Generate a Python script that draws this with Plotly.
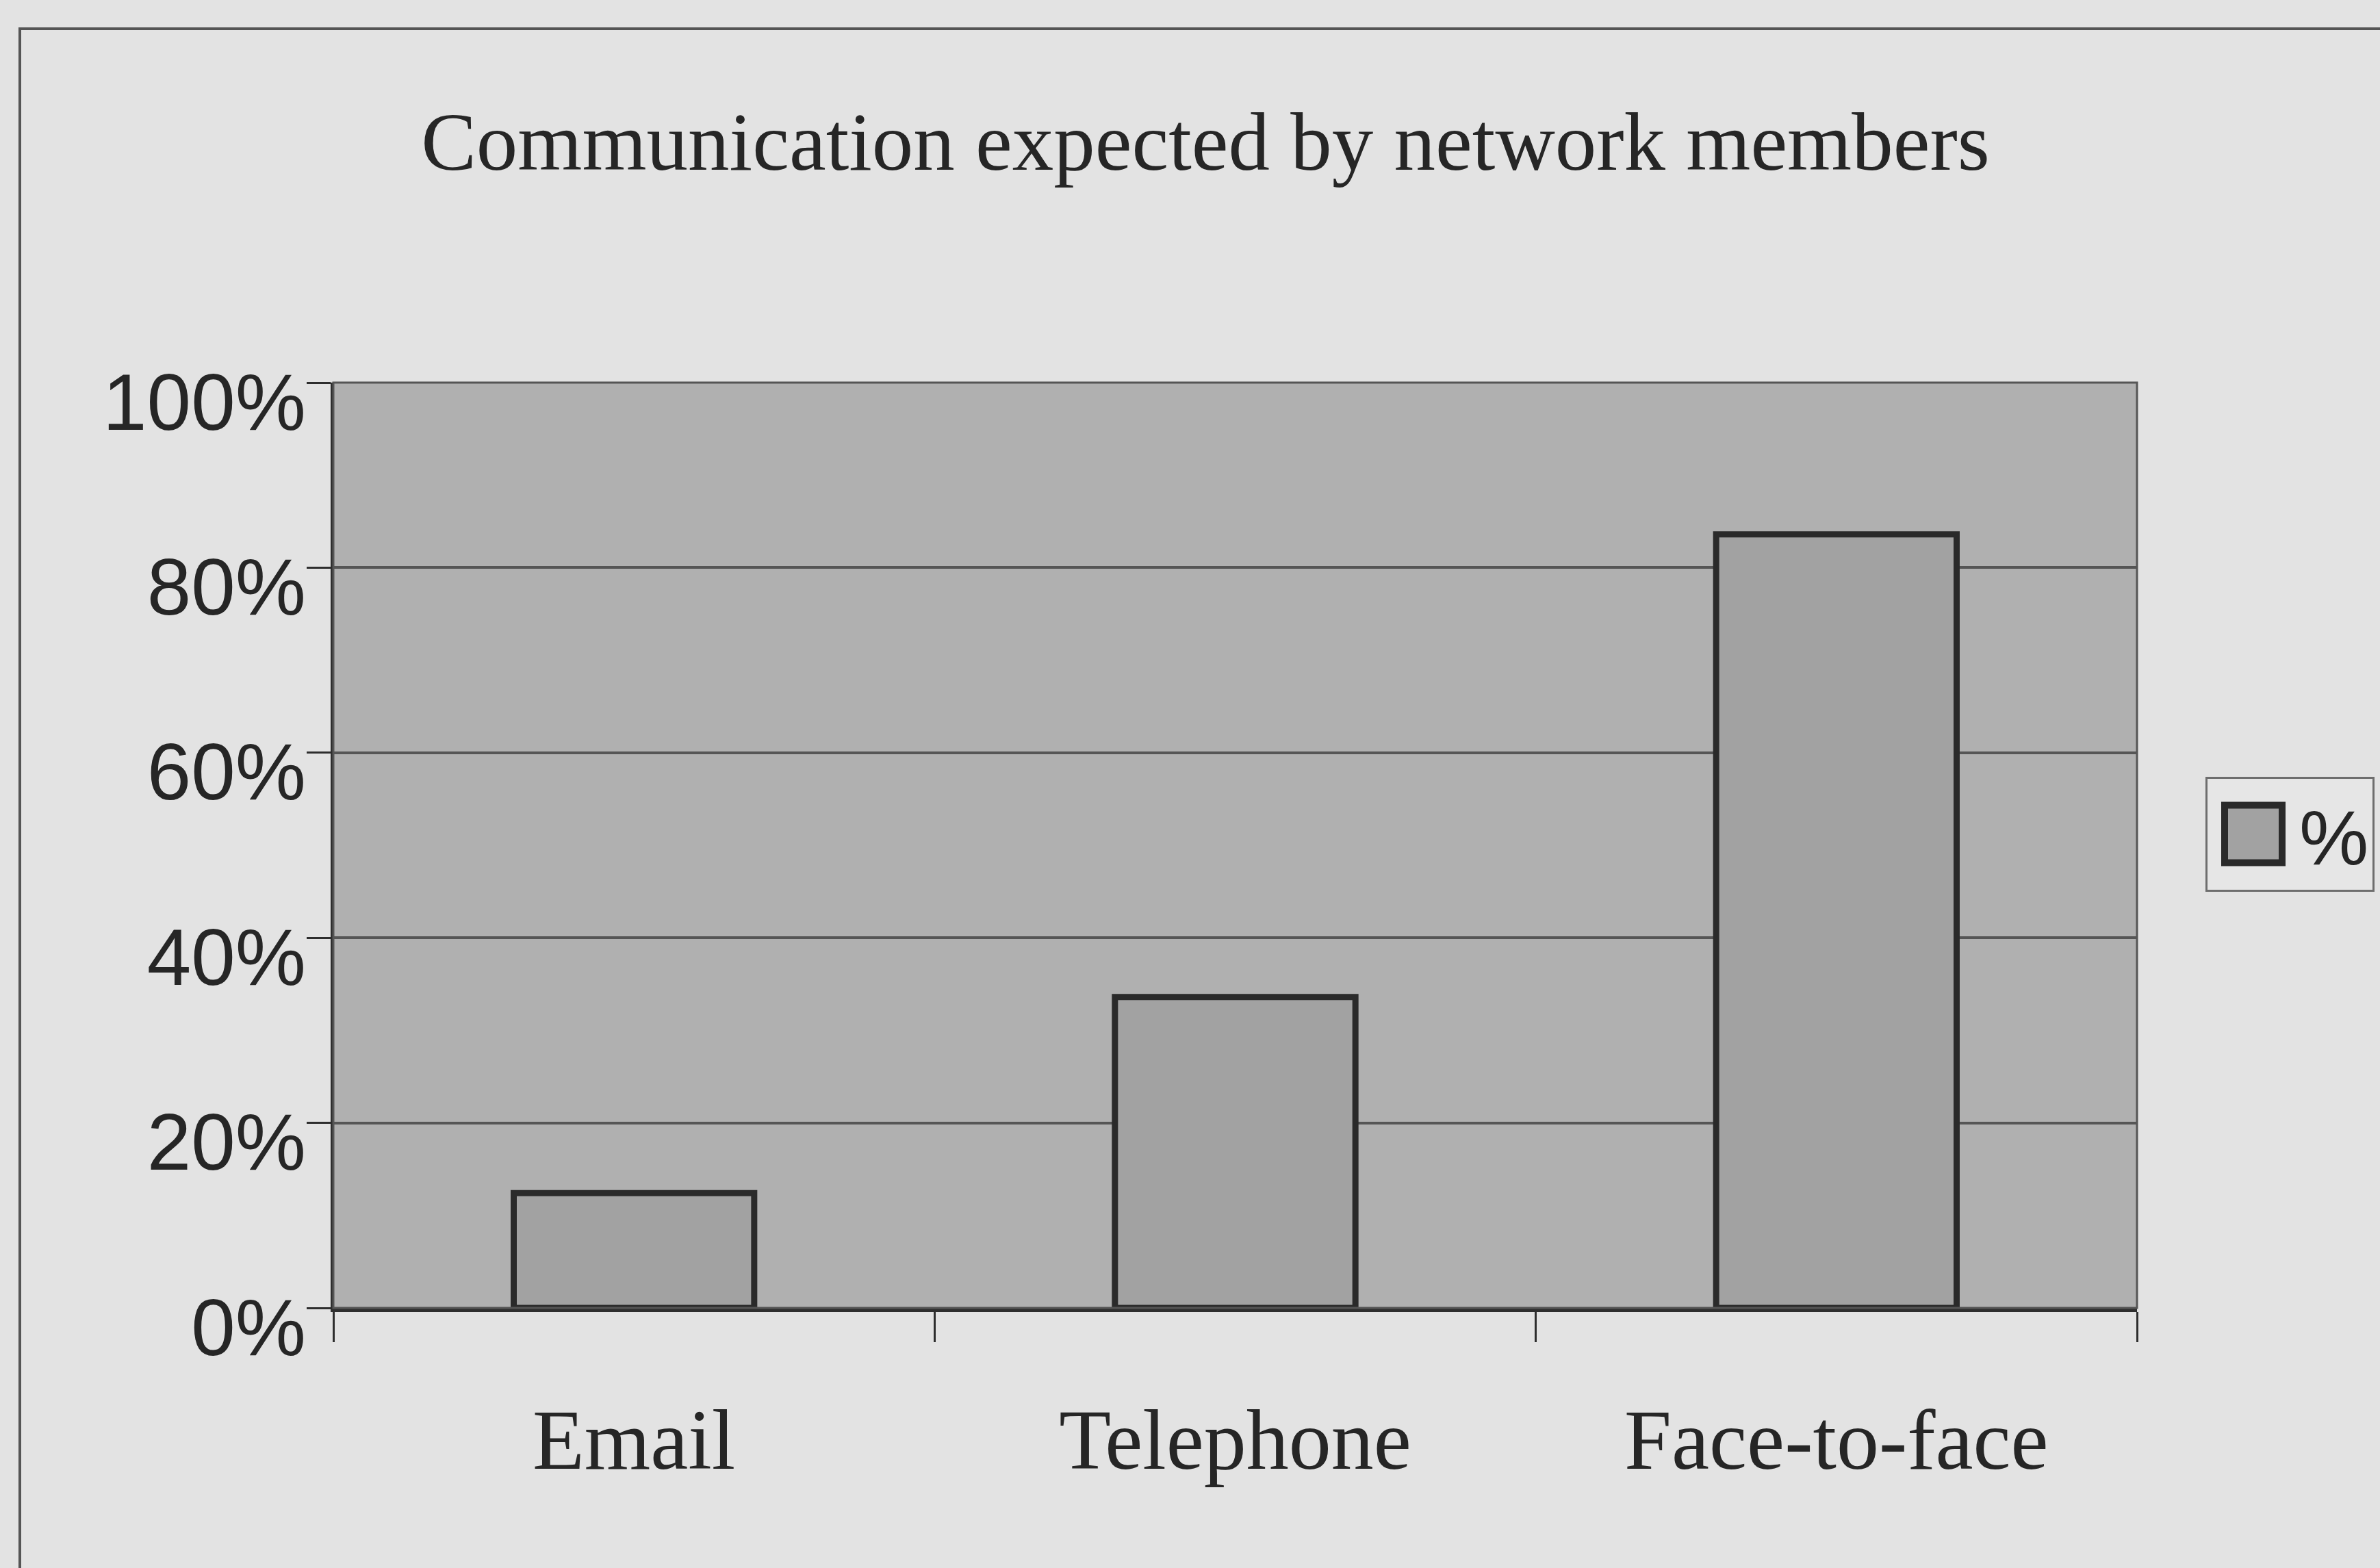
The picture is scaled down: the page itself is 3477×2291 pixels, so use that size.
import plotly.graph_objects as go

# ---------------- data ----------------
categories = ["Email", "Telephone", "Face-to-face"]
values = [12.4, 33.6, 83.6]
series_name = "%"
y_tick_values = [0, 20, 40, 60, 80, 100]
y_tick_labels = ["0%", "20%", "40%", "60%", "80%", "100%"]
title_text = "Communication expected by network members"

# ---------------- layout constants (pixels) ----------------
W, H = 3477, 2291
L, R, T, B = 487, 3122, 559, 1911


def px_x(p):
    return (p - L) / (R - L)


def px_y(p):
    return (B - p) / (B - T)


SANS = "Liberation Sans, Arial, sans-serif"
SERIF = "Liberation Serif, Times New Roman, serif"
TEXT = "#262626"

fig = go.Figure()
fig.add_trace(go.Bar(
    x=categories,
    y=values,
    name=series_name,
    marker=dict(color="#a2a2a2", line=dict(color="#2a2a2a", width=9)),
    showlegend=True,
))

fig.update_layout(
    width=W,
    height=H,
    margin=dict(l=L, r=W - R, t=T, b=H - B, autoexpand=False),
    paper_bgcolor="#e3e3e3",
    plot_bgcolor="#b0b0b0",
    bargap=0.6,
    showlegend=True,
    title=dict(
        text=title_text,
        x=1761 / W, xanchor="center",
        y=1 - 206 / H, yanchor="middle",
        xref="container", yref="container",
        font=dict(family=SERIF, size=121, color=TEXT),
    ),
    legend=dict(
        x=px_x(3222), xanchor="left",
        y=px_y(1135), yanchor="top",
        bgcolor="#e6e6e6",
        bordercolor="#6e6e6e",
        borderwidth=3,
        itemwidth=124,
        font=dict(family=SANS, size=114, color=TEXT),
    ),
    xaxis=dict(
        type="category",
        showline=True, linecolor="#2e2e2e", linewidth=6,
        ticks="outside", tickson="boundaries", ticklen=44, tickwidth=3, tickcolor="#2e2e2e",
        showgrid=False,
        tickfont=dict(family=SERIF, size=124, color=TEXT),
        ticklabelstandoff=80,
    ),
    yaxis=dict(
        range=[0, 100],
        tickvals=y_tick_values,
        ticktext=y_tick_labels,
        showline=True, linecolor="#2e2e2e", linewidth=4,
        ticks="outside", ticklen=35, tickwidth=3, tickcolor="#2e2e2e",
        showgrid=True, gridcolor="#555555", gridwidth=4,
        zeroline=False,
        tickfont=dict(family=SANS, size=116, color=TEXT),
        ticklabelstandoff=-22,
        ticklabelshift=28,
    ),
    shapes=[
        # plot-area border (top / right)
        dict(type="rect", xref="paper", yref="paper", x0=0, x1=1, y0=0, y1=1,
             line=dict(color="#555555", width=3), fillcolor="rgba(0,0,0,0)", layer="above"),
        # outer chart frame (cut off at right/bottom edges)
        dict(type="rect", xref="paper", yref="paper",
             x0=px_x(29), x1=px_x(W + 60), y0=px_y(H + 60), y1=px_y(42),
             line=dict(color="#555555", width=4), fillcolor="rgba(0,0,0,0)", layer="below"),
    ],
)

post = """
var gd = document.getElementById('{plot_id}');
gd.querySelectorAll('.legendpoints path').forEach(function(p){
  var t = p.getAttribute('transform') || '';
  p.setAttribute('transform', t + ' scale(7)');
  p.style.vectorEffect = 'non-scaling-stroke';
  p.style.strokeWidth = '10px';
});
"""

fig.write_html("out.html", post_script=post)
